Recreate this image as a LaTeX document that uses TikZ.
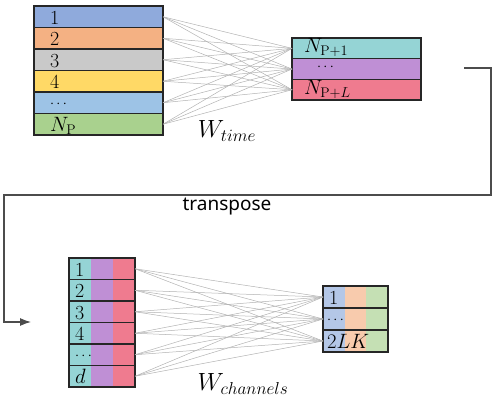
\documentclass[tikz,border=0pt]{standalone}
\usepackage{fontspec}
\usepackage{xcolor,tikz}
\newfontfamily\tagfont{Noto Sans}
\usetikzlibrary{calc,positioning}
\usetikzlibrary{arrows,arrows.meta}
\tikzset{>=stealth}

\definecolor{blueA}{HTML}{8FAADC}
\definecolor{orangeA}{HTML}{F4B183}
\definecolor{grayA}{HTML}{C9C9C9}
\definecolor{yellowA}{HTML}{FFD966}
\definecolor{blueB}{HTML}{9DC3E6}
\definecolor{greenA}{HTML}{A9D18E}
\definecolor{tealA}{HTML}{95D4D5}
\definecolor{purpleA}{HTML}{BF8FD5}
\definecolor{pinkA}{HTML}{EF7B8F}
\definecolor{blueC}{HTML}{B4C7E7}
\definecolor{peachA}{HTML}{F8CBAD}
\definecolor{greenB}{HTML}{C5E0B4}

\newcommand{\dotsrow}{{\fontsize{15}{15}\selectfont\raisebox{3pt}{$\cdots$}}}

\tikzset{
  cell/.style={draw=black!85,line width=1.3pt,outer sep=0pt,inner ysep=0pt,
    minimum height=21.5pt,align=left,text height=16pt,text depth=1pt,
    font=\fontsize{20}{20}\selectfont},
  widecell/.style={cell,inner xsep=16pt,text width=97pt},
  outcell/.style={cell,inner xsep=12pt,text width=105pt,minimum height=20.7pt,
    text height=11pt,text depth=2pt},
  thincell/.style={cell,inner xsep=6pt,text width=54pt},
  smallcell/.style={cell,inner xsep=4pt,text width=57pt,minimum height=22pt},
  threecol/.style n args={3}{fill=#3,path picture={
    \fill[#2] (path picture bounding box.south west) rectangle
      ($(path picture bounding box.north west)!2/3!(path picture bounding box.north east)$);
    \fill[#1] (path picture bounding box.south west) rectangle
      ($(path picture bounding box.north west)!1/3!(path picture bounding box.north east)$);}},
  link/.style={gray!60,line width=0.5pt},
}

\begin{document}
\begin{tikzpicture}[x=1pt,y=-1pt]
\useasboundingbox (0,0) rectangle (498,404);

% time mixing
\node[widecell,fill=blueA] (t1) at (98.5,16.75) {1};
\node[widecell,fill=orangeA,below=0pt of t1] (t2) {2};
\node[widecell,fill=grayA,below=0pt of t2] (t3) {3};
\node[widecell,fill=yellowA,below=0pt of t3] (t4) {4};
\node[widecell,fill=blueB,below=0pt of t4] (t5) {\dotsrow};
\node[widecell,fill=greenA,below=0pt of t5] (t6) {$N_{\mathrm{P}}$};

\node[outcell,fill=tealA] (o1) at (356.5,48.35) {$N_{\mathrm{P}+1}$};
\node[outcell,fill=purpleA,below=0pt of o1] (o2) {\hspace*{13pt}\dotsrow};
\node[outcell,fill=pinkA,below=0pt of o2] (o3) {$N_{\mathrm{P}+L}$};

\foreach \i in {1,...,6}{\foreach \j in {1,2,3}{\draw[link] (t\i.east) -- (o\j.west);}}

\node[font=\fontsize{25}{25}\selectfont] (wt) at (227,131) {$W_{time}$};

% transpose
\coordinate (trfrom) at (464,68);
\coordinate (trto) at (31,322);
\draw[-{Latex[length=11pt,width=8pt]},black!70,line width=1.2pt] (trfrom) -- (491,68) -- (491,195) -- (4,195) |- (trto);
\node[font=\tagfont\fontsize{19}{19}\selectfont] (tp) at (227,207) {transpose};

% channel mixing
\node[thincell,threecol={tealA}{purpleA}{pinkA}] (c1) at (102,268.75) {1};
\node[thincell,threecol={tealA}{purpleA}{pinkA},below=0pt of c1] (c2) {2};
\node[thincell,threecol={tealA}{purpleA}{pinkA},below=0pt of c2] (c3) {3};
\node[thincell,threecol={tealA}{purpleA}{pinkA},below=0pt of c3] (c4) {4};
\node[thincell,threecol={tealA}{purpleA}{pinkA},below=0pt of c4] (c5) {\dotsrow};
\node[thincell,threecol={tealA}{purpleA}{pinkA},below=0pt of c5] (c6) {$d$};

\node[smallcell,threecol={blueC}{peachA}{greenB}] (k1) at (355.5,297) {\hspace*{2pt}1};
\node[smallcell,threecol={blueC}{peachA}{greenB},below=0pt of k1] (k2) {\dotsrow};
\node[smallcell,threecol={blueC}{peachA}{greenB},below=0pt of k2] (k3) {$2LK$};

\foreach \i in {1,...,6}{\foreach \j in {1,2,3}{\draw[link] (c\i.east) -- (k\j.west);}}

\node[font=\fontsize{25}{25}\selectfont] (wc) at (243,384) {$W_{channels}$};
\end{tikzpicture}
\end{document}
